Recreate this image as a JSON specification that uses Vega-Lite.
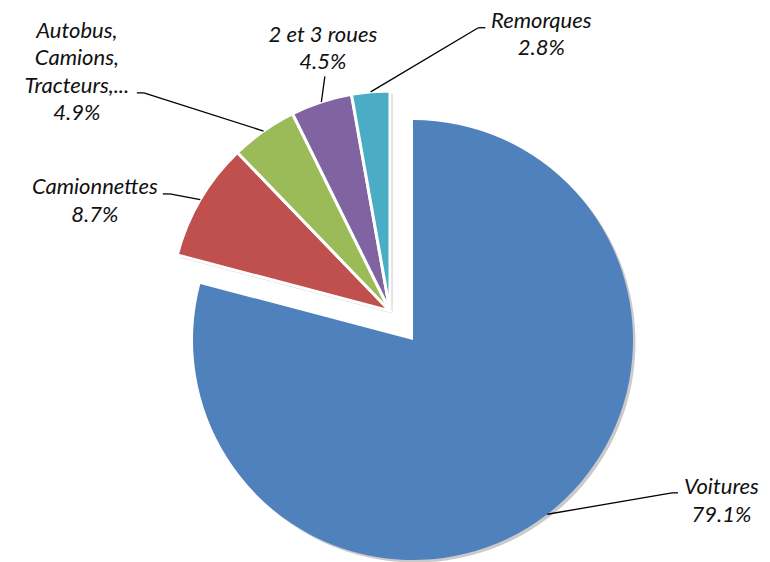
{
  "$schema": "https://vega.github.io/schema/vega-lite/v6.json",
  "width": 780,
  "height": 622,
  "autosize": {"type": "none"},
  "padding": 0,
  "background": "white",
  "config": {"view": {"stroke": null}},
  "data": {
    "values": [
      {"cat": "Voitures", "label": "Voitures", "pct": 79.1, "rank": 1},
      {"cat": "Camionnettes", "label": "Camionnettes", "pct": 8.7, "rank": 2},
      {"cat": "Autobus, Camions, Tracteurs,...", "label": "Autobus,\nCamions,\nTracteurs,...", "pct": 4.9, "rank": 3},
      {"cat": "2 et 3 roues", "label": "2 et 3 roues", "pct": 4.5, "rank": 4},
      {"cat": "Remorques", "label": "Remorques", "pct": 2.8, "rank": 5}
    ]
  },
  "transform": [
    {"calculate": "datum.label + '\\n' + format(datum.pct, '.1f') + '%'", "as": "text"},
    {"window": [{"op": "sum", "field": "pct", "as": "cum"}], "sort": [{"field": "rank"}], "frame": [null, 0]},
    {"joinaggregate": [{"op": "sum", "field": "pct", "as": "total"}]},
    {"calculate": "2 * PI * (datum.cum - datum.pct / 2) / datum.total", "as": "mid"},
    {"calculate": "[382, 315, 394, 271, 315][datum.rank - 1]", "as": "lr"},
    {"calculate": "[-0.394, -0.174, -0.306, 0.067, 0.589][datum.rank - 1]", "as": "loff"},
    {"calculate": "datum.rank === 3 ? -41.25 : -13.75", "as": "ldy"},
    {"calculate": "390 + (datum.rank === 1 ? 23 : 0) + 220 * sin(datum.mid)", "as": "sx"},
    {"calculate": "311 + (datum.rank === 1 ? 29 : 0) - 220 * cos(datum.mid)", "as": "sy"},
    {"calculate": "390 + datum.lr * sin(datum.mid + datum.loff) + [-43.5, 68, 60, 2, -56][datum.rank - 1]", "as": "tx"},
    {"calculate": "311 - datum.lr * cos(datum.mid + datum.loff) + [-8, -7, 21, 28, -7][datum.rank - 1]", "as": "ty"},
    {"calculate": "datum.tx + [-6, 7, 7, 0, -7][datum.rank - 1]", "as": "bx"}
  ],
  "layer": [
    {
      "mark": {"type": "arc", "radius": 220, "color": "#8a8a8a", "opacity": 0.45,
               "xOffset": {"expr": "datum.rank === 1 ? 25.5 : 2.5"},
               "yOffset": {"expr": "datum.rank === 1 ? 31.5 : 2.5"}},
      "encoding": {
        "theta": {"field": "pct", "type": "quantitative", "stack": true},
        "order": {"field": "rank", "type": "quantitative"}
      }
    },
    {
      "mark": {"type": "arc", "radius": 220, "stroke": "white", "strokeWidth": 3},
      "encoding": {
        "theta": {"field": "pct", "type": "quantitative", "stack": true},
        "order": {"field": "rank", "type": "quantitative"},
        "color": {
          "field": "cat",
          "type": "nominal",
          "scale": {
            "domain": ["Voitures", "Camionnettes", "Autobus, Camions, Tracteurs,...", "2 et 3 roues", "Remorques"],
            "range": ["#4F81BD", "#C0504D", "#9BBB59", "#8064A2", "#4BACC6"]
          },
          "legend": null
        },
        "opacity": {"condition": {"test": "datum.cat === 'Voitures'", "value": 0}, "value": 1}
      }
    },
    {
      "mark": {"type": "arc", "radius": 220, "xOffset": 23, "yOffset": 29},
      "encoding": {
        "theta": {"field": "pct", "type": "quantitative", "stack": true},
        "order": {"field": "rank", "type": "quantitative"},
        "color": {"field": "cat", "type": "nominal", "legend": null},
        "opacity": {"condition": {"test": "datum.cat === 'Voitures'", "value": 1}, "value": 0}
      }
    },
    {
      "mark": {"type": "rule", "color": "#000000", "strokeWidth": 1.3},
      "encoding": {
        "x": {"field": "sx", "type": "quantitative", "scale": {"domain": [0, 780], "nice": false, "zero": false}, "axis": null},
        "y": {"field": "sy", "type": "quantitative", "scale": {"domain": [0, 622], "nice": false, "zero": false, "reverse": true}, "axis": null},
        "x2": {"field": "bx"},
        "y2": {"field": "ty"}
      }
    },
    {
      "mark": {"type": "rule", "color": "#000000", "strokeWidth": 1.3},
      "encoding": {
        "x": {"field": "bx", "type": "quantitative"},
        "y": {"field": "ty", "type": "quantitative"},
        "x2": {"field": "tx"},
        "y2": {"field": "ty"}
      }
    },
    {
      "mark": {
        "type": "text",
        "font": "Lato",
        "fontStyle": "italic",
        "fontSize": 22,
        "lineBreak": "\n",
        "lineHeight": 27.5,
        "align": "center",
        "baseline": "middle",
        "color": "#111111",
        "radius": {"expr": "datum.lr"},
        "thetaOffset": {"expr": "datum.loff"},
        "dy": {"expr": "datum.ldy"}
      },
      "encoding": {
        "theta": {"field": "pct", "type": "quantitative", "stack": true},
        "order": {"field": "rank", "type": "quantitative"},
        "text": {"field": "text"}
      }
    }
  ]
}
